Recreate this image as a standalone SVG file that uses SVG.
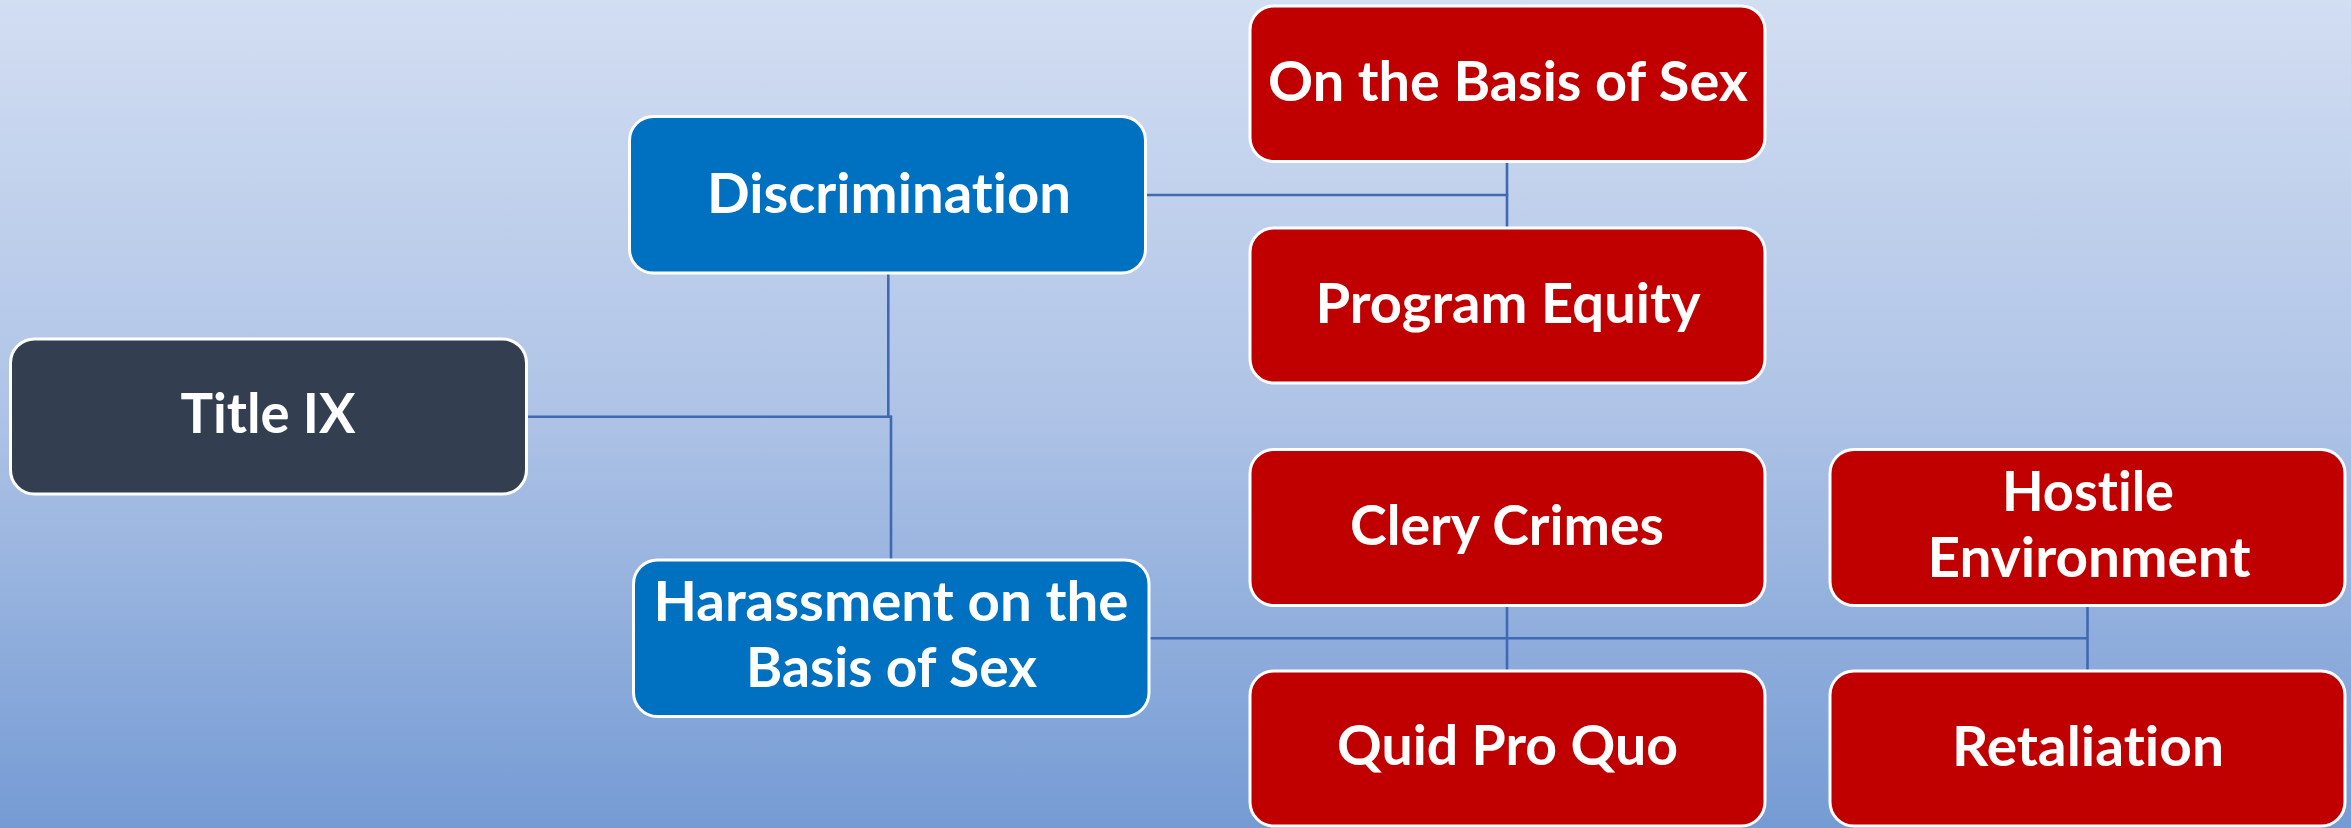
<svg xmlns="http://www.w3.org/2000/svg" width="2351" height="828" viewBox="0 0 2351 828">
<defs>
<linearGradient id="bg" x1="0" y1="0" x2="0" y2="1">
<stop offset="0" stop-color="#d2def2"/>
<stop offset="0.5" stop-color="#aec3e6"/>
<stop offset="1" stop-color="#759bd4"/>
</linearGradient>
</defs>
<style>
.box{stroke:#ffffff;stroke-width:3}
.dark{fill:#333f50}
.blue{fill:#0070c0}
.red{fill:#c00000}
.t{font-family:Lato,"Open Sans",sans-serif;font-weight:700;font-size:55px;fill:#ffffff;text-anchor:middle;font-variant-ligatures:none;font-feature-settings:"liga" 0,"dlig" 0}
.c{fill:none;stroke:#4168b4;stroke-width:2.6}
</style>
<rect x="0" y="0" width="2351" height="828" fill="url(#bg)"/>
<g id="connectors">
<path class="c" d="M526 416.7 H891.5"/>
<path class="c" d="M888.3 273 V418"/>
<path class="c" d="M891 415.5 V560"/>
<path class="c" d="M1146 195 H1508.2"/>
<path class="c" d="M1507 161.5 V228"/>
<path class="c" d="M1149 638.3 H2087.5"/>
<path class="c" d="M1507 605.5 V671"/>
<path class="c" d="M2087.5 605.5 V671"/>
</g>
<g id="title-ix">
<rect class="box dark" x="10.5" y="339" width="516" height="155" rx="24"/>
<text class="t" x="268" y="433" textLength="175" lengthAdjust="spacingAndGlyphs">Title IX</text>
</g>
<g id="discrimination">
<rect class="box blue" x="629.5" y="116.5" width="516" height="156.5" rx="24"/>
<text class="t" x="889" y="213" textLength="364" lengthAdjust="spacingAndGlyphs">Discrimination</text>
</g>
<g id="harassment">
<rect class="box blue" x="633.5" y="560" width="515.5" height="156.5" rx="24"/>
<text class="t" x="891" y="621" textLength="475" lengthAdjust="spacingAndGlyphs">Harassment on the</text>
<text class="t" x="891.5" y="687" textLength="291" lengthAdjust="spacingAndGlyphs">Basis of Sex</text>
</g>
<g id="on-the-basis-of-sex">
<rect class="box red" x="1250" y="6" width="515" height="155.5" rx="24"/>
<text class="t" x="1508" y="101" textLength="480" lengthAdjust="spacingAndGlyphs">On the Basis of Sex</text>
</g>
<g id="program-equity">
<rect class="box red" x="1250" y="228" width="515" height="155" rx="24"/>
<text class="t" x="1508" y="323" textLength="385" lengthAdjust="spacingAndGlyphs">Program Equity</text>
</g>
<g id="clery-crimes">
<rect class="box red" x="1250" y="449.5" width="515" height="156" rx="24"/>
<text class="t" x="1507" y="545" textLength="314" lengthAdjust="spacingAndGlyphs">Clery Crimes</text>
</g>
<g id="quid-pro-quo">
<rect class="box red" x="1250" y="671" width="515" height="155" rx="24"/>
<text class="t" x="1507.5" y="765" textLength="341" lengthAdjust="spacingAndGlyphs">Quid Pro Quo</text>
</g>
<g id="hostile-environment">
<rect class="box red" x="1830" y="449.5" width="515" height="156" rx="24"/>
<text class="t" x="2088" y="511" textLength="172" lengthAdjust="spacingAndGlyphs">Hostile</text>
<text class="t" x="2089" y="577" textLength="323" lengthAdjust="spacingAndGlyphs">Environment</text>
</g>
<g id="retaliation">
<rect class="box red" x="1830" y="671" width="515" height="155" rx="24"/>
<text class="t" x="2088" y="766" textLength="272" lengthAdjust="spacingAndGlyphs">Retaliation</text>
</g>
</svg>
